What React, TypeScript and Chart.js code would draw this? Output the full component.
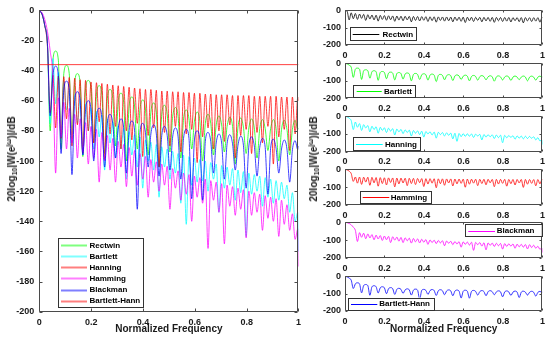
import React, { useEffect, useRef } from "react";
import { Chart, registerables } from "chart.js";

Chart.register(...registerables);

// ---------------- DATA ----------------
// Normalized frequency grid (x values)
const FREQ = [
  0, 0.0105, 0.021, 0.0315, 0.042, 0.0525, 0.063, 0.0735, 0.084, 0.0945,
  0.105, 0.1155, 0.126, 0.1365, 0.147, 0.1575, 0.168, 0.1785, 0.189, 0.1995,
  0.21, 0.2205, 0.231, 0.2415, 0.252, 0.2625, 0.273, 0.2835, 0.294, 0.3045,
  0.315, 0.3255, 0.336, 0.3465, 0.357, 0.3675, 0.378, 0.3885, 0.399, 0.4095,
  0.42, 0.4305, 0.441, 0.4515, 0.462, 0.4725, 0.483, 0.4935, 0.504, 0.5145,
  0.525, 0.5355, 0.546, 0.5565, 0.567, 0.5775, 0.588, 0.5985, 0.609, 0.6195,
  0.63, 0.6405, 0.651, 0.6615, 0.672, 0.6825, 0.693, 0.7035, 0.714, 0.7245,
  0.735, 0.7455, 0.756, 0.7665, 0.777, 0.7875, 0.798, 0.8085, 0.819, 0.8295,
  0.84, 0.8505, 0.861, 0.8715, 0.882, 0.8925, 0.903, 0.9135, 0.924, 0.9345,
  0.945, 0.9555, 0.966, 0.9765, 0.987, 0.9975, 1,
];

const RECTWIN_DB = [
  0, -4, -55, -14, -48, -18, -52, -21, -46, -23,
  -58, -25, -50, -26.5, -55, -28, -62, -29, -52, -30,
  -57, -31, -54, -32, -63, -32.5, -56, -33.5, -60, -34,
  -55, -34.5, -66, -35, -58, -35.5, -61, -36, -57, -36.5,
  -64, -37, -59, -37, -68, -37.5, -58, -38, -62, -38,
  -60, -38.5, -66, -38.5, -59, -39, -63, -39, -70, -39.5,
  -60, -39.5, -64, -40, -58, -40, -66, -40, -61, -40.5,
  -63, -40.5, -69, -40.5, -60, -41, -64, -41, -62, -41,
  -67, -41.5, -60, -41.5, -65, -41.5, -72, -41.5, -61, -42,
  -64, -42, -62, -42, -68, -42, -42,
];

const BARTLETT_DB = [
  0, -2.5, -10, -22, -80, -33, -27, -33, -92, -42,
  -36.5, -42, -85, -48, -42, -48, -97, -52, -46.5, -52,
  -88, -56, -50, -56, -95, -58.5, -52.5, -58.5, -90, -61,
  -55, -61, -100, -63.5, -57.5, -63.5, -92, -65.5, -59.5, -65.5,
  -96, -67.5, -61.5, -67.5, -104, -69, -63, -69, -94, -70.5,
  -64.5, -70.5, -98, -72, -66, -72, -92, -73.5, -67.5, -73.5,
  -100, -75, -69, -75, -96, -76, -70, -76, -94, -77,
  -71, -77, -102, -77.5, -71.5, -77.5, -95, -78, -72, -78,
  -98, -78.5, -72.5, -78.5, -93, -78.5, -72.5, -78.5, -100, -79,
  -73, -79, -96, -79, -73, -79, -78,
];

const HANNING_DB = [
  0, -2.5, -10, -24, -75, -32, -62, -41, -80, -47,
  -66, -52, -88, -56, -75, -59, -96, -62, -80, -65,
  -92, -67, -84, -69.5, -106, -72, -88, -74, -98, -76.5,
  -92, -78.5, -112, -80.5, -96, -82.5, -104, -84, -118, -86,
  -100, -87.5, -106, -89, -124, -90.5, -104, -92, -112, -93.5,
  -108, -95, -128, -96, -142, -97, -116, -98, -114, -99,
  -113, -100, -120, -101, -112, -102, -134, -103, -118, -104,
  -116, -105, -126, -106, -121, -107, -150, -108, -122, -109,
  -120, -110, -130, -111, -124, -112, -128, -113, -126, -114,
  -125, -116, -134, -121, -140, -134, -160,
];

const HAMMING_DB = [
  0, -2.5, -10, -24, -68, -43, -78, -43.5, -85, -44,
  -72, -44.5, -90, -45, -76, -46, -95, -46.5, -80, -47.5,
  -88, -48, -74, -48.5, -99, -49, -82, -49.5, -77, -50,
  -92, -50.5, -80, -51, -86, -51.5, -75, -52, -97, -52.5,
  -83, -52.5, -78, -53, -104, -53.5, -81, -53.5, -90, -54,
  -77, -54, -94, -54.5, -82, -54.5, -79, -55, -101, -55,
  -84, -55.5, -78, -55.5, -92, -56, -80, -56, -87, -56,
  -76, -56.5, -98, -56.5, -83, -56.5, -79, -56.5, -95, -57,
  -81, -57, -88, -57, -77, -57, -102, -57, -84, -57.5,
  -79, -57.5, -93, -57.5, -82, -57.5, -60,
];

const BLACKMAN_DB = [
  0, -1.5, -6, -14, -27, -45, -108, -58, -84, -61,
  -92, -65, -88, -69, -98, -72, -94, -74.5, -102, -77,
  -98, -79, -114, -81, -100, -83, -106, -85, -114, -87,
  -104, -89, -117, -91, -110, -93, -116, -95, -112, -97,
  -124, -99, -114, -100.5, -120, -102, -116, -103.5, -132, -105,
  -118, -106.5, -126, -108, -122, -109, -140, -110, -124, -111,
  -128, -112, -158, -113, -126, -114, -134, -115, -155, -116,
  -130, -117, -136, -118, -132, -119, -151, -120, -136, -121,
  -134, -122, -146, -123, -138, -124, -140, -125, -150, -126,
  -142, -129, -146, -135, -152, -145, -170,
];

const BHANN_DB = [
  0, -2.5, -10, -22, -70, -43, -37, -43, -95, -53,
  -47, -53, -109, -60, -54, -60, -96, -66, -60, -66,
  -100, -71, -65, -71, -104, -75, -69, -75, -98, -78,
  -72, -78, -108, -79.5, -73.5, -79.5, -132, -81, -75, -81,
  -104, -82, -76, -82, -110, -83, -77, -83, -106, -84,
  -78, -84, -112, -85, -79, -85, -125, -86, -80, -86,
  -126, -87, -81, -87, -108, -88, -82, -88, -112, -88.5,
  -82.5, -88.5, -106, -89.5, -83.5, -89.5, -118, -90, -84, -90,
  -110, -91, -85, -91, -122, -91.5, -85.5, -91.5, -108, -92,
  -86, -92, -114, -92.5, -86.5, -92.5, -90,
];

// flat red line in the left plot
const LEVEL_FREQ = [0, 1];
const LEVEL_DB = [-36, -36];

const LEFT_LABELS = ["Rectwin", "Bartlett", "Hanning", "Hamming", "Blackman", "Bartlett-Hann"];
const RIGHT_LABELS = ["Rectwin", "Bartlett", "Hanning", "Hamming", "Blackman", "Bartlett-Hann"];

// ---------------- STYLE ----------------
const FONT = '"Liberation Sans", Arial, Helvetica, sans-serif';
const TXT = "#1a1a1a";
const GREEN = "rgb(0,255,0)";
const CYAN = "rgb(0,255,255)";
const RED = "rgb(255,0,0)";
const MAGENTA = "rgb(255,0,255)";
const BLUE = "rgb(0,0,255)";
const BLACK = "rgb(0,0,0)";

const toPts = (xs: number[], ys: number[]) => xs.map((x, i) => ({ x, y: ys[i] }));

function makeFrame(tickLen: number) {
  return {
    id: "frame",
    afterDatasetsDraw(chart: any) {
      const { ctx, chartArea: a } = chart;
      const xs = chart.scales.x;
      const ys = chart.scales.y;
      ctx.save();
      ctx.strokeStyle = "#4a4a4a";
      ctx.lineWidth = 1;
      const L = Math.round(a.left) + 0.5;
      const R = Math.round(a.right) - 0.5;
      const T = Math.round(a.top) + 0.5;
      const B = Math.round(a.bottom) - 0.5;
      ctx.beginPath();
      ctx.rect(L, T, R - L, B - T);
      xs.ticks.forEach((t: any) => {
        const p = Math.round(xs.getPixelForValue(t.value)) + 0.5;
        ctx.moveTo(p, B);
        ctx.lineTo(p, B - tickLen);
        ctx.moveTo(p, T);
        ctx.lineTo(p, T + tickLen);
      });
      ys.ticks.forEach((t: any) => {
        const p = Math.round(ys.getPixelForValue(t.value)) + 0.5;
        ctx.moveTo(L, p);
        ctx.lineTo(L + tickLen, p);
        ctx.moveTo(R, p);
        ctx.lineTo(R - tickLen, p);
      });
      ctx.stroke();
      ctx.restore();
    },
  };
}

type LegendCfg = {
  x0: number; y0: number; x1: number; y1: number;
  lx0: number; lx1: number; tx: number;
  rowY: number; rowH: number;
  lineWidth: number; alpha: number;
  items: { label: string; color: string }[];
};

function makeLegend(cfg: LegendCfg) {
  return {
    id: "boxLegend",
    afterDraw(chart: any) {
      const ctx = chart.ctx as CanvasRenderingContext2D;
      ctx.save();
      ctx.fillStyle = "#ffffff";
      ctx.fillRect(cfg.x0, cfg.y0, cfg.x1 - cfg.x0, cfg.y1 - cfg.y0);
      ctx.strokeStyle = "#333333";
      ctx.lineWidth = 1;
      ctx.strokeRect(Math.round(cfg.x0) + 0.5, Math.round(cfg.y0) + 0.5,
        Math.round(cfg.x1 - cfg.x0), Math.round(cfg.y1 - cfg.y0));
      cfg.items.forEach((it, i) => {
        const y = cfg.rowY + i * cfg.rowH;
        ctx.globalAlpha = cfg.alpha;
        ctx.strokeStyle = it.color;
        ctx.lineWidth = cfg.lineWidth;
        ctx.beginPath();
        ctx.moveTo(cfg.lx0, Math.round(y) + 0.5);
        ctx.lineTo(cfg.lx1, Math.round(y) + 0.5);
        ctx.stroke();
        ctx.globalAlpha = 1;
        ctx.fillStyle = "#000";
        ctx.font = `bold 8px ${FONT}`;
        ctx.textBaseline = "middle";
        ctx.textAlign = "left";
        ctx.fillText(it.label, cfg.tx, y + 0.5);
      });
      ctx.restore();
    },
  };
}

const tickFont = { family: FONT, size: 9, weight: "bold" as const };
const titleFont = { family: FONT, size: 10, weight: "bold" as const };
const fmtTick = (v: any) => String(Math.round(Number(v) * 10) / 10);

function baseScales(opts: {
  yStep: number; yWidth: number; xHeight: number; xTitle: boolean; yPad: number;
}) {
  return {
    x: {
      type: "linear",
      min: 0,
      max: 1,
      ticks: { stepSize: 0.2, padding: 5, font: tickFont, color: TXT, maxRotation: 0, autoSkip: false, callback: fmtTick },
      grid: { display: false, drawTicks: false },
      border: { display: false },
      title: {
        display: opts.xTitle,
        text: "Normalized Frequency",
        font: titleFont,
        color: TXT,
        padding: { top: 0, bottom: 4 },
      },
      afterFit: (s: any) => { s.height = opts.xHeight; },
    },
    y: {
      type: "linear",
      min: -200,
      max: 0,
      ticks: { stepSize: opts.yStep, padding: opts.yPad, font: tickFont, color: TXT, autoSkip: false, callback: fmtTick },
      grid: { display: false, drawTicks: false },
      border: { display: false },
      afterFit: (s: any) => { s.width = opts.yWidth; },
    },
  };
}

const lineDs = (label: string, xs: number[], ys: number[], color: string, order: number, width: number) => ({
  label,
  data: toPts(xs, ys),
  borderColor: color,
  backgroundColor: color,
  borderWidth: width,
  pointRadius: 0,
  pointHoverRadius: 0,
  fill: false,
  cubicInterpolationMode: "monotone",
  order,
});

function ChartBox(props: { left: number; top: number; width: number; height: number; make: () => any }) {
  const ref = useRef<HTMLCanvasElement>(null);
  useEffect(() => {
    const chart = new Chart(ref.current as HTMLCanvasElement, props.make());
    return () => chart.destroy();
  }, []);
  return (
    <div style={{ position: "absolute", left: props.left, top: props.top, width: props.width, height: props.height }}>
      <canvas ref={ref} width={props.width} height={props.height} style={{ display: "block", width: props.width, height: props.height }} />
    </div>
  );
}

// ---------------- LEFT CHART ----------------
const LEFT_W = 306;
const LEFT_H = 339;

function makeLeft() {
  const seriesData = [BARTLETT_DB, HANNING_DB, HAMMING_DB, BLACKMAN_DB, BHANN_DB];
  const colors = [GREEN, CYAN, RED, MAGENTA, BLUE, RED];
  const datasets: any[] = seriesData.map((ys, i) => lineDs(LEFT_LABELS[i], FREQ, ys, colors[i], 6 - i, 0.75));
  datasets.push(lineDs(LEFT_LABELS[5], LEVEL_FREQ, LEVEL_DB, RED, 1, 0.75));
  return {
    type: "line",
    data: { datasets },
    options: {
      responsive: false,
      animation: false,
      events: [],
      layout: { padding: { top: 6, right: 3, left: 0, bottom: 0 } },
      plugins: { legend: { display: false }, tooltip: { enabled: false } },
      scales: baseScales({ yStep: 20, yWidth: 39.3, xHeight: 27.3, xTitle: true, yPad: 5 }),
    },
    plugins: [
      makeFrame(3),
      makeLegend({
        x0: 58, y0: 238, x1: 143, y1: 306.5,
        lx0: 61, lx1: 87, tx: 89.5,
        rowY: 245, rowH: 11.14,
        lineWidth: 2, alpha: 0.5,
        items: LEFT_LABELS.map((label, i) => ({ label, color: colors[i] })),
      }),
    ],
  };
}

// ---------------- RIGHT PANELS ----------------
const R_LEFT = 318;
const R_W = 232;
const PANEL_H = 38;
const PANEL_TOPS = [7, 60.3, 113.5, 166.7, 219.8, 273];
const PANEL_SERIES = [RECTWIN_DB, BARTLETT_DB, HANNING_DB, HAMMING_DB, BLACKMAN_DB, BHANN_DB];
const PANEL_COLORS = [BLACK, GREEN, CYAN, RED, MAGENTA, BLUE];
// legend boxes in page coordinates: [x0, y0, x1, y1, lineStart, lineEnd, textX]
const PANEL_LEGENDS = [
  [350, 27.3, 416, 40.5, 352.7, 379.3, 382.5],
  [352.7, 84.8, 415, 97.2, 356.7, 381.7, 384],
  [353.3, 137.3, 420, 150.3, 356, 382.7, 385],
  [360, 190.7, 430.7, 203, 362.7, 389.3, 390.7],
  [465, 224.3, 541.7, 236.7, 468.3, 495, 496.7],
  [348.3, 297.5, 434, 309.5, 351, 377.3, 379.3],
];

function panelGeom(i: number) {
  const top = PANEL_TOPS[i];
  const cTop = Math.floor(top) - 6;
  const padTop = top - cTop;
  const last = i === PANEL_TOPS.length - 1;
  const cHeight = last ? 339 - cTop : Math.ceil(top + PANEL_H + 17) - cTop;
  const xHeight = cHeight - padTop - PANEL_H;
  return { cTop, padTop, cHeight, xHeight, last };
}

function makePanel(i: number) {
  const g = panelGeom(i);
  const lg = PANEL_LEGENDS[i];
  const ox = R_LEFT;
  const oy = g.cTop;
  return {
    type: "line",
    data: { datasets: [lineDs(RIGHT_LABELS[i], FREQ, PANEL_SERIES[i], PANEL_COLORS[i], 1, 0.8)] },
    options: {
      responsive: false,
      animation: false,
      events: [],
      layout: { padding: { top: g.padTop, right: 5, left: 0, bottom: 0 } },
      plugins: { legend: { display: false }, tooltip: { enabled: false } },
      scales: baseScales({ yStep: 100, yWidth: 345 - R_LEFT, xHeight: g.xHeight, xTitle: g.last, yPad: 4 }),
    },
    plugins: [
      makeFrame(2),
      makeLegend({
        x0: lg[0] - ox, y0: lg[1] - oy, x1: lg[2] - ox, y1: lg[3] - oy,
        lx0: lg[4] - ox, lx1: lg[5] - ox, tx: lg[6] - ox,
        rowY: (lg[1] + lg[3]) / 2 - oy, rowH: 0,
        lineWidth: 1, alpha: 1,
        items: [{ label: RIGHT_LABELS[i], color: PANEL_COLORS[i] }],
      }),
    ],
  };
}

function YLabel(props: { cx: number; cy: number }) {
  return (
    <div
      style={{
        position: "absolute",
        left: props.cx,
        top: props.cy,
        transform: "translate(-50%, -50%) rotate(-90deg)",
        whiteSpace: "nowrap",
        font: `bold 10px ${FONT}`,
        color: TXT,
        lineHeight: "12px",
      }}
    >
      20log<sub style={{ fontSize: 7, verticalAlign: "-2px", lineHeight: 0 }}>10</sub>|W(e
      <sup style={{ fontSize: 7, verticalAlign: "4px", lineHeight: 0 }}>jω</sup>)|/dB
    </div>
  );
}

export default function App() {
  return (
    <div style={{ position: "absolute", left: 0, top: 0, width: 550, height: 339, background: "#fff", overflow: "hidden" }}>
      <ChartBox left={0} top={0} width={LEFT_W} height={LEFT_H} make={makeLeft} />
      {PANEL_TOPS.map((_, i) => {
        const g = panelGeom(i);
        return <ChartBox key={i} left={R_LEFT} top={g.cTop} width={R_W} height={g.cHeight} make={() => makePanel(i)} />;
      })}
      <YLabel cx={12} cy={159} />
      <YLabel cx={314} cy={159} />
    </div>
  );
}
